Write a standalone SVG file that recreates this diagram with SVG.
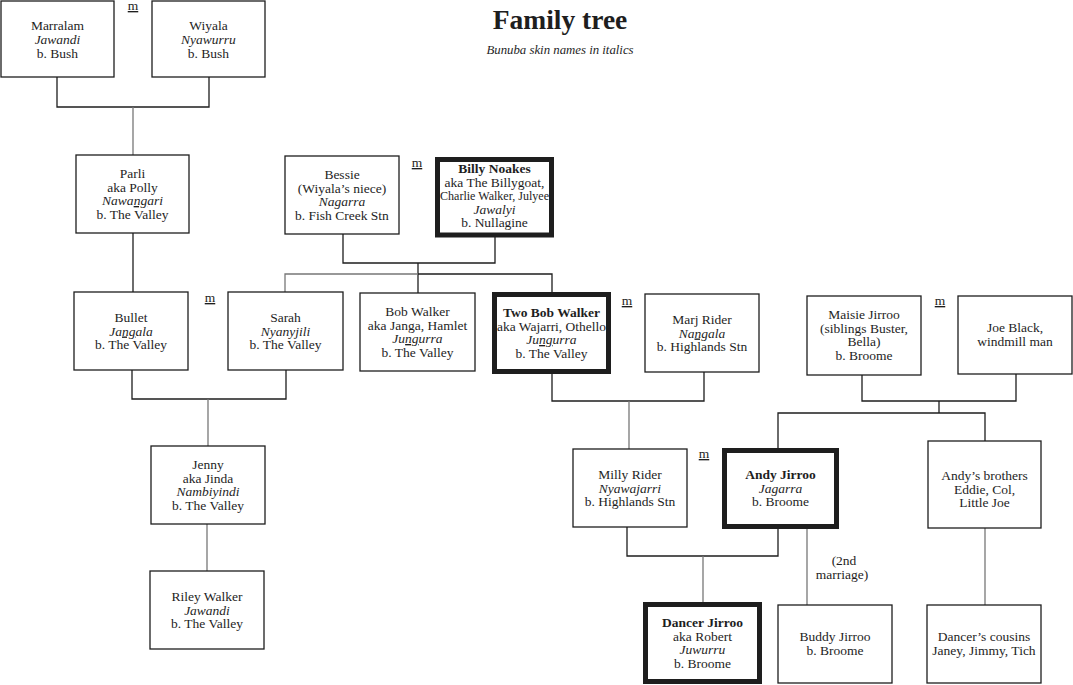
<svg xmlns="http://www.w3.org/2000/svg" width="1073" height="685" viewBox="0 0 1073 685">
<style>
text{font-family:"Liberation Serif","Times New Roman",serif;font-size:13.5px;fill:#1e1e1e;text-anchor:middle}
.i{font-style:italic}
.b{font-weight:bold}
.u{text-decoration:underline}
.box{fill:#fff;stroke:#1e1e1e;stroke-width:1.3}
.thick{fill:#fff;stroke:#1e1e1e;stroke-width:5}
.c path{fill:none;stroke:#1e1e1e;stroke-width:1.3}
.c path.g{stroke:#777}
.title{font-size:27.5px;font-weight:bold}
.sub{font-size:12.8px;font-style:italic}
</style>
<rect width="1073" height="685" fill="#fff"/>
<text class="title" x="560" y="29">Family tree</text>
<text class="sub" x="560" y="54">Bunuba skin names in italics</text>

<g class="c" id="connectors">
<path d="M57 77V107H209V77"/>
<path class="g" d="M133 107V155"/>
<path d="M133 233V292"/>
<path d="M343 234V263H495V237"/>
<path d="M418 263V293"/>
<path class="g" d="M285 292V274H418"/>
<path d="M418 274H552V292"/>
<path d="M132 370V399H286V370"/>
<path class="g" d="M208 399V446"/>
<path class="g" d="M207 524V571"/>
<path d="M552 374V401H704V372"/>
<path class="g" d="M629 401V449"/>
<path d="M862 375V401H1016V374"/>
<path d="M939 401V413"/>
<path d="M778 448V413H985V441"/>
<path d="M627 527V556H778V529"/>
<path class="g" d="M703 556V602"/>
<path class="g" d="M807 529V605"/>
<path class="g" d="M985 528V605"/>
</g>

<g id="marriage-labels">
<text class="u" x="133" y="10">m</text>
<text class="u" x="417" y="167">m</text>
<text class="u" x="210" y="302">m</text>
<text class="u" x="627" y="305">m</text>
<text class="u" x="940" y="305">m</text>
<text class="u" x="704" y="458">m</text>
<text x="844" y="565">(2nd</text>
<text x="842" y="579">marriage)</text>
</g>

<g id="marralam">
<rect class="box" x="1" y="1" width="113" height="76"/>
<text x="57.5" y="30">Marralam</text>
<text class="i" x="57.5" y="44">Jawandi</text>
<text x="57.5" y="57.5">b. Bush</text>
</g>
<g id="wiyala">
<rect class="box" x="152" y="1" width="113" height="76"/>
<text x="208.5" y="30">Wiyala</text>
<text class="i" x="208.5" y="44">Nyawurru</text>
<text x="208.5" y="57.5">b. Bush</text>
</g>
<g id="parli">
<rect class="box" x="76" y="155" width="113" height="78"/>
<text x="132.5" y="178">Parli</text>
<text x="132.5" y="191.5">aka Polly</text>
<text class="i" x="132.5" y="205">Nawa<tspan class="u">ng</tspan>ari</text>
<text x="132.5" y="218.5">b. The Valley</text>
</g>
<g id="bessie">
<rect class="box" x="285" y="156" width="114" height="78"/>
<text x="342" y="179">Bessie</text>
<text x="342" y="192.5">(Wiyala’s niece)</text>
<text class="i" x="342" y="206">Nagarra</text>
<text x="342" y="219.5">b. Fish Creek Stn</text>
</g>
<g id="billy-noakes">
<rect class="thick" x="437.5" y="159.5" width="114" height="75.5"/>
<text class="b" x="494.5" y="173">Billy Noakes</text>
<text x="494.5" y="186.5">aka The Billygoat,</text>
<text x="494.5" y="200" textLength="109" lengthAdjust="spacingAndGlyphs">Charlie Walker, Julyee</text>
<text class="i" x="494.5" y="213.5">Jawalyi</text>
<text x="494.5" y="227">b. Nullagine</text>
</g>
<g id="bullet">
<rect class="box" x="74" y="292" width="114" height="78"/>
<text x="131" y="322">Bullet</text>
<text class="i" x="131" y="335.5">Ja<tspan class="u">ng</tspan>ala</text>
<text x="131" y="349">b. The Valley</text>
</g>
<g id="sarah">
<rect class="box" x="228" y="292" width="115" height="78"/>
<text x="285.5" y="322">Sarah</text>
<text class="i" x="285.5" y="335.5">Nyanyjili</text>
<text x="285.5" y="349">b. The Valley</text>
</g>
<g id="bob-walker">
<rect class="box" x="360" y="293" width="115" height="78"/>
<text x="417.5" y="316">Bob Walker</text>
<text x="417.5" y="329.5">aka Janga, Hamlet</text>
<text class="i" x="417.5" y="343">Ju<tspan class="u">ng</tspan>urra</text>
<text x="417.5" y="356.5">b. The Valley</text>
</g>
<g id="two-bob-walker">
<rect class="thick" x="494.5" y="294.5" width="114" height="77"/>
<text class="b" x="551.5" y="317">Two Bob Walker</text>
<text x="551.5" y="330.5" textLength="109" lengthAdjust="spacingAndGlyphs">aka Wajarri, Othello</text>
<text class="i" x="551.5" y="344">Ju<tspan class="u">ng</tspan>urra</text>
<text x="551.5" y="357.5">b. The Valley</text>
</g>
<g id="marj-rider">
<rect class="box" x="645" y="294" width="114" height="78"/>
<text x="702" y="324">Marj Rider</text>
<text class="i" x="702" y="337.5">Na<tspan class="u">ng</tspan>ala</text>
<text x="702" y="351">b. Highlands Stn</text>
</g>
<g id="maisie-jirroo">
<rect class="box" x="807" y="296" width="114" height="79"/>
<text x="864" y="319">Maisie Jirroo</text>
<text x="864" y="332.5">(siblings Buster,</text>
<text x="864" y="346">Bella)</text>
<text x="864" y="359.5">b. Broome</text>
</g>
<g id="joe-black">
<rect class="box" x="958" y="296" width="114" height="78"/>
<text x="1015" y="332">Joe Black,</text>
<text x="1015" y="346">windmill man</text>
</g>
<g id="jenny">
<rect class="box" x="151" y="446" width="114" height="78"/>
<text x="208" y="469">Jenny</text>
<text x="208" y="482.5">aka Jinda</text>
<text class="i" x="208" y="496">Nambiyindi</text>
<text x="208" y="509.5">b. The Valley</text>
</g>
<g id="riley-walker">
<rect class="box" x="150" y="571" width="114" height="78"/>
<text x="207" y="601">Riley Walker</text>
<text class="i" x="207" y="614.5">Jawandi</text>
<text x="207" y="628">b. The Valley</text>
</g>
<g id="milly-rider">
<rect class="box" x="573" y="449" width="114" height="78"/>
<text x="630" y="479">Milly Rider</text>
<text class="i" x="630" y="492.5">Nyawajarri</text>
<text x="630" y="506">b. Highlands Stn</text>
</g>
<g id="andy-jirroo">
<rect class="thick" x="724.5" y="450.5" width="112" height="76"/>
<text class="b" x="780.5" y="479">Andy Jirroo</text>
<text class="i" x="780.5" y="492.5">Jagarra</text>
<text x="780.5" y="506">b. Broome</text>
</g>
<g id="andys-brothers">
<rect class="box" x="928" y="441" width="113" height="87"/>
<text x="984.5" y="480">Andy’s brothers</text>
<text x="984.5" y="493.5">Eddie, Col,</text>
<text x="984.5" y="507">Little Joe</text>
</g>
<g id="dancer-jirroo">
<rect class="thick" x="645.5" y="604.5" width="114" height="77"/>
<text class="b" x="702.5" y="627">Dancer Jirroo</text>
<text x="702.5" y="640.5">aka Robert</text>
<text class="i" x="702.5" y="654">Juwurru</text>
<text x="702.5" y="667.5">b. Broome</text>
</g>
<g id="buddy-jirroo">
<rect class="box" x="778" y="605" width="114" height="78"/>
<text x="835" y="641">Buddy Jirroo</text>
<text x="835" y="655">b. Broome</text>
</g>
<g id="dancers-cousins">
<rect class="box" x="927" y="605" width="114" height="78"/>
<text x="984" y="641">Dancer’s cousins</text>
<text x="984" y="655">Janey, Jimmy, Tich</text>
</g>
</svg>
